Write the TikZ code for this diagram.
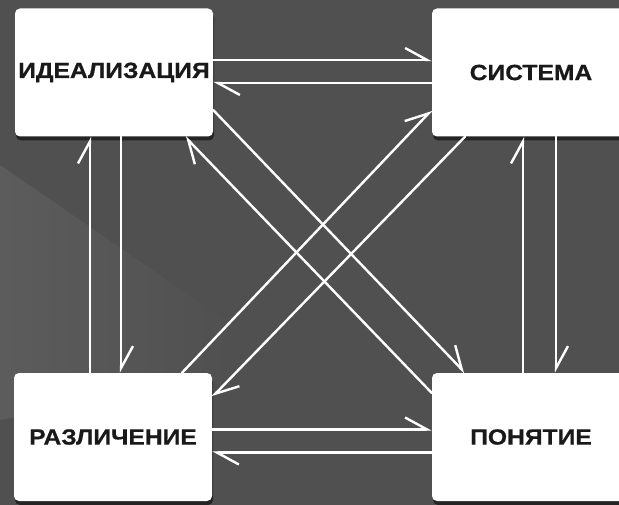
\documentclass[tikz,border=0pt]{standalone}
\usepackage{fontspec}
\newfontfamily\boxfont[FakeStretch=1.12,FakeBold=0.6]{Liberation Sans}
\usetikzlibrary{arrows.meta,calc,shadows,fadings}
\definecolor{bgmain}{RGB}{80,80,80}
\definecolor{bglight}{RGB}{108,108,108}
\begin{document}
\begin{tikzpicture}[x=1pt,y=-1pt,
  card/.style={fill=white, rounded corners=5pt, minimum width=198pt, minimum height=128pt,
    inner sep=0pt, text=black!90, font=\boxfont\bfseries\fontsize{22}{24}\selectfont,
    drop shadow={shadow xshift=1pt, shadow yshift=-4pt, opacity=0.55, fill=black}},
  conn/.style={draw=white, line width=2.4pt, line cap=round,
    -{Straight Barb[left, length=22pt, width=24pt]}}]
\fill[bgmain] (0,0) rectangle (619,505);
\useasboundingbox (0,0) rectangle (619,505);
\fill[bglight, opacity=0.45, path fading=east] (0,165) -- (240,330) -- (240,380) -- (0,420) -- cycle;

\node[card] (ide) at (114,72.5) {ИДЕАЛИЗАЦИЯ};
\node[card] (sys) at (531,72.5) {СИСТЕМА};
\node[card] (raz) at (113,437) {РАЗЛИЧЕНИЕ};
\node[card] (pon) at (531,437) {ПОНЯТИЕ};

% horizontal
\draw[conn] ($(ide.east)+(0,-12.5)$) -- ($(sys.west)+(0,-12.5)$);
\draw[conn] ($(sys.west)+(0,10.5)$) -- ($(ide.east)+(0,10.5)$);
\draw[conn] ($(raz.east)+(0,-7.5)$) -- ($(pon.west)+(0,-7.5)$);
\draw[conn] ($(pon.west)+(0,15.5)$) -- ($(raz.east)+(0,15.5)$);
% vertical
\draw[conn] ($(raz.north)+(-23,0)$) -- ($(ide.south)+(-24,0)$);
\draw[conn] ($(ide.south)+(7,0)$) -- ($(raz.north)+(8,0)$);
\draw[conn] ($(pon.north)+(-8,0)$) -- ($(sys.south)+(-8,0)$);
\draw[conn] ($(sys.south)+(25,0)$) -- ($(pon.north)+(25,0)$);
% diagonal
\draw[conn] ($(ide.east)+(0,37.5)$) -- ($(pon.north)+(-66,0)$);
\draw[conn] ($(pon.west)+(0,-44)$) -- ($(ide.south)+(71,0)$);
\draw[conn] ($(raz.north)+(69,0)$) -- ($(sys.west)+(0,37.5)$);
\draw[conn] ($(sys.south)+(-66,0)$) -- ($(raz.east)+(0,-40)$);
\end{tikzpicture}
\end{document}
